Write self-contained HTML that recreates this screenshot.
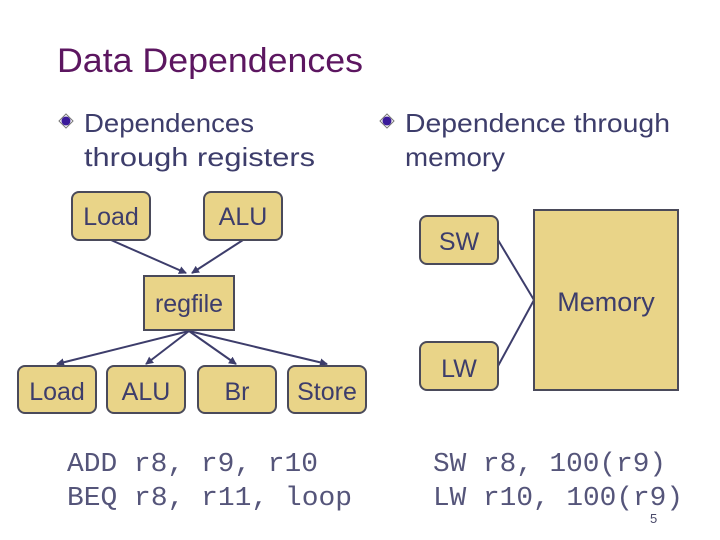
<!DOCTYPE html>
<html><head><style>html,body{margin:0;padding:0;background:#fff}svg{display:block}</style></head><body>
<svg width="720" height="540" viewBox="0 0 720 540" xmlns="http://www.w3.org/2000/svg" font-family="Liberation Sans, sans-serif">
<defs><marker id="a" markerWidth="8" markerHeight="8" refX="7" refY="4" orient="auto" markerUnits="userSpaceOnUse"><path d="M0,0 L8,4 L0,8 z" fill="#3d3d6b"/></marker></defs>
<text x="57" y="72" font-size="34" fill="#5c1660" textLength="306" lengthAdjust="spacingAndGlyphs">Data Dependences</text>
<g fill="#3a3a8a"><path d="M66,114 L73,121 L66,128 L59,121 z" fill="#fff" stroke="#777" stroke-width="1"/><circle cx="66" cy="121" r="4.5" fill="#3a1a9a"/>
<path d="M387,114 L394,121 L387,128 L380,121 z" fill="#fff" stroke="#777" stroke-width="1"/><circle cx="387" cy="121" r="4.5" fill="#3a1a9a"/></g>
<g font-size="26" fill="#3d3d6b">
<text x="84" y="132" textLength="170" lengthAdjust="spacingAndGlyphs">Dependences</text>
<text x="84" y="166" textLength="231" lengthAdjust="spacingAndGlyphs">through registers</text>
<text x="405" y="132" textLength="265" lengthAdjust="spacingAndGlyphs">Dependence through</text>
<text x="405" y="166" textLength="100" lengthAdjust="spacingAndGlyphs">memory</text>
</g>
<g stroke="#3d3d6b" stroke-width="2" fill="none">
<line x1="111" y1="240" x2="186" y2="273" marker-end="url(#a)"/>
<line x1="243" y1="240" x2="192" y2="273" marker-end="url(#a)"/>
<line x1="189" y1="331" x2="57" y2="364" marker-end="url(#a)"/>
<line x1="189" y1="331" x2="146" y2="364" marker-end="url(#a)"/>
<line x1="189" y1="331" x2="236" y2="364" marker-end="url(#a)"/>
<line x1="189" y1="331" x2="327" y2="364" marker-end="url(#a)"/>
<line x1="498" y1="240" x2="534" y2="300"/>
<line x1="498" y1="366" x2="534" y2="300"/>
</g>
<g fill="#e9d488" stroke="#4a4a5a" stroke-width="2">
<rect x="72" y="192" width="78" height="48" rx="7"/>
<rect x="204" y="192" width="78" height="48" rx="7"/>
<rect x="144" y="276" width="90" height="54"/>
<rect x="18" y="366" width="78" height="47" rx="7"/>
<rect x="107" y="366" width="78" height="47" rx="7"/>
<rect x="198" y="366" width="78" height="47" rx="7"/>
<rect x="288" y="366" width="78" height="47" rx="7"/>
<rect x="534" y="210" width="144" height="180"/>
<rect x="420" y="216" width="78" height="48" rx="7"/>
<rect x="420" y="342" width="78" height="48" rx="7"/>
</g>
<g font-size="25" fill="#3d3d6b" text-anchor="middle">
<text x="111" y="225">Load</text>
<text x="243" y="225">ALU</text>
<text x="189" y="312">regfile</text>
<text x="57" y="400">Load</text>
<text x="146" y="400">ALU</text>
<text x="237" y="400">Br</text>
<text x="327" y="400">Store</text>
<text x="459" y="250">SW</text>
<text x="459" y="377">LW</text>
<text x="606" y="311" font-size="27">Memory</text>
</g>
<g font-family="Liberation Mono, monospace" font-size="27" fill="#55557a">
<text x="67" y="471" textLength="251" lengthAdjust="spacingAndGlyphs">ADD r8, r9, r10</text>
<text x="67" y="505" textLength="285" lengthAdjust="spacingAndGlyphs">BEQ r8, r11, loop</text>
<text x="433" y="471" textLength="233" lengthAdjust="spacingAndGlyphs">SW r8, 100(r9)</text>
<text x="433" y="505" textLength="250" lengthAdjust="spacingAndGlyphs">LW r10, 100(r9)</text>
</g>
<text x="650" y="523" font-size="13" fill="#4a4a6a">5</text>
</svg>
</body></html>
